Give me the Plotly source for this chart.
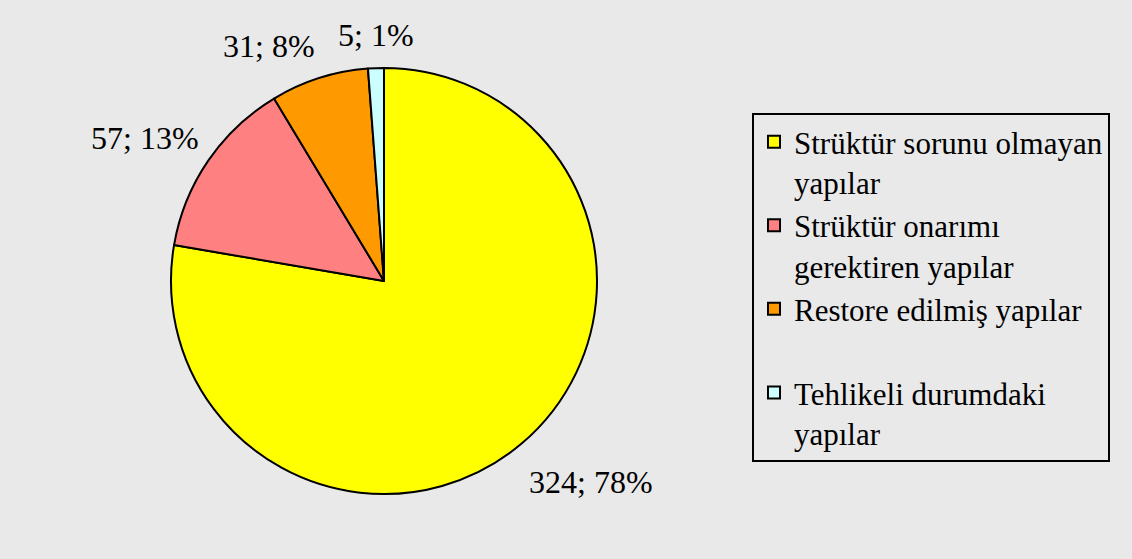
import math
import plotly.graph_objects as go

categories = [
    "Strüktür sorunu olmayan<br>yapılar",
    "Strüktür onarımı<br>gerektiren yapılar",
    "Restore edilmiş yapılar<br> ",
    "Tehlikeli durumdaki<br>yapılar",
]
values = [324, 57, 31, 5]
percent_labels = ["78%", "13%", "8%", "1%"]
colors = ["#ffff00", "#ff8080", "#ff9900", "#ccffff"]

text = [f"{v}; {p}" for v, p in zip(values, percent_labels)]

W, H = 1132, 559
cx, cy, r = 384, 281, 213
label_gap = 22
FONT = "Liberation Serif"

fig = go.Figure(go.Pie(
    labels=categories,
    values=values,
    textinfo="none",
    sort=False,
    direction="clockwise",
    rotation=0,
    marker=dict(colors=colors, line=dict(color="black", width=2)),
    domain=dict(x=[(cx - r) / W, (cx + r) / W], y=[1 - (cy + r) / H, 1 - (cy - r) / H]),
    hoverinfo="skip",
))

# data labels placed outside each slice, along the slice bisector
total = sum(values)
start = 0.0
for v, t in zip(values, text):
    frac = v / total
    mid = (start + frac / 2) * 2 * math.pi
    start += frac
    s, c = math.sin(mid), -math.cos(mid)  # x right, y down
    R = r + label_gap
    px, py = cx + R * s, cy + R * c
    xa = "left" if s > 0.15 else ("right" if s < -0.15 else "center")
    ya = "top" if c > 0.15 else ("bottom" if c < -0.15 else "middle")
    fig.add_annotation(
        x=px / W, y=1 - py / H, xref="paper", yref="paper",
        text=t, showarrow=False, xanchor=xa, yanchor=ya,
        xshift=-12 * s, yshift=(-8 if ya == "bottom" else -2),
        font=dict(family=FONT, size=32, color="black"),
        borderpad=0,
    )

fig.update_layout(
    width=W, height=H,
    margin=dict(l=0, r=0, t=0, b=0),
    paper_bgcolor="#e9e9e9",
    plot_bgcolor="#e9e9e9",
    font=dict(family=FONT, size=31, color="black"),
    showlegend=True,
    legend=dict(
        x=752 / W, y=1 - 113 / H, xanchor="left", yanchor="top",
        bordercolor="black", borderwidth=2, bgcolor="rgba(0,0,0,0)",
        valign="top", tracegroupgap=0, itemsizing="constant",
        font=dict(family=FONT, size=31, color="black"),
    ),
)

fig.write_html("out.html", post_script="document.body.style.margin='0';",
               config={"displayModeBar": False})
